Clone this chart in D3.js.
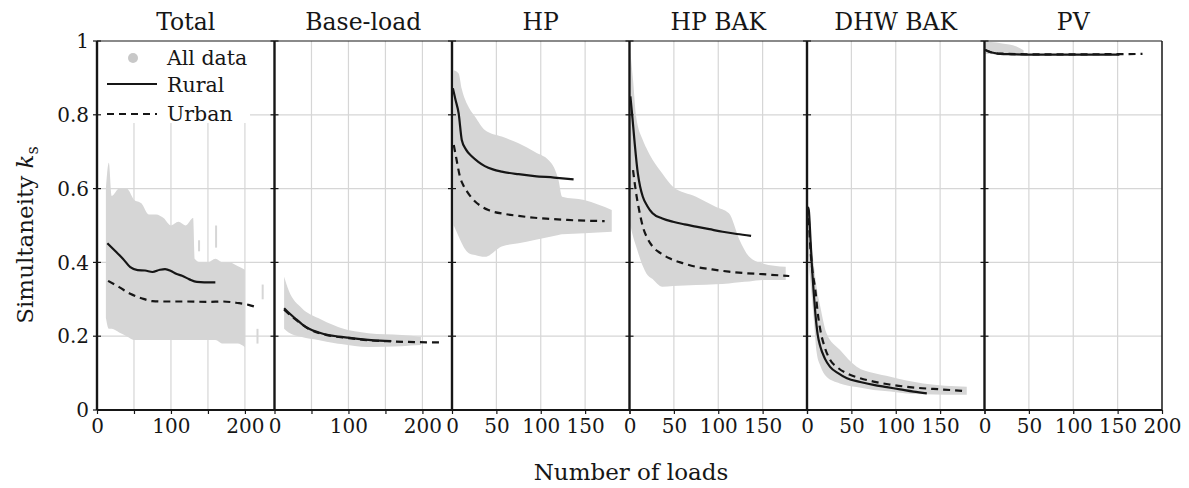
<!DOCTYPE html>
<html>
<head>
<meta charset="utf-8">
<script src="https://cdn.jsdelivr.net/npm/d3@7"></script>
<style>
  body { margin: 0; background: #fff; }
  svg { display: block; font-family: "DejaVu Serif", serif; }
</style>
</head>
<body>
<div id="chart"></div>
<script>
// panels, axes
const panelNames = ["Total", "Base-load", "HP", "HP BAK", "DHW BAK", "PV"];
const xMax = [240, 240, 200, 200, 200, 200];
const xTickLabels = [
  [0, 100, 200], [0, 100, 200], [0, 50, 100, 150],
  [0, 50, 100, 150], [0, 50, 100, 150], [0, 50, 100, 150, 200]
];
const xGridLines = [
  [50, 100, 150, 200], [50, 100, 150, 200], [50, 100, 150],
  [50, 100, 150], [50, 100, 150], [50, 100, 150]
];
const yTicks = [0, 0.2, 0.4, 0.6, 0.8, 1];

// Rural (solid) curves, [loads, ks]
const ruralTotal = [[14,0.452],[25,0.43],[35,0.41],[45,0.387],[55,0.379],[65,0.378],[75,0.374],[85,0.38],[92,0.382],[100,0.377],[107,0.369],[115,0.364],[125,0.354],[135,0.347],[145,0.346],[160,0.346]];
const ruralBase = [[13,0.276],[20,0.262],[28,0.248],[37,0.233],[46,0.221],[60,0.21],[73,0.203],[87,0.199],[100,0.196],[113,0.193],[127,0.19],[142,0.188],[158,0.187]];
const ruralHP = [[1,0.872],[4,0.84],[7.5,0.804],[11,0.732],[16,0.705],[22.5,0.687],[30,0.672],[37,0.661],[46,0.652],[56,0.646],[75,0.639],[93,0.634],[115,0.63],[137,0.625]];
const ruralHPBAK = [[1,0.85],[3,0.8],[5.5,0.732],[9.4,0.641],[12,0.605],[15,0.578],[20,0.553],[26,0.533],[37,0.519],[49,0.51],[62,0.503],[75,0.497],[90,0.49],[105,0.483],[121,0.477],[137,0.472]];
const ruralDHW = [[1,0.55],[2,0.542],[4,0.46],[5.6,0.388],[7.5,0.32],[9.4,0.262],[12,0.205],[15,0.172],[20,0.14],[26,0.117],[35,0.1],[45,0.086],[60,0.076],[75,0.068],[90,0.062],[105,0.056],[120,0.05],[135,0.045]];
const ruralPV = [[0.7,0.976],[6.4,0.97],[12,0.967],[17.6,0.965],[30,0.964],[55,0.963],[100,0.963],[152,0.963]];

// Urban (dashed) curves
const urbanTotal = [[15,0.35],[30,0.333],[45,0.315],[60,0.303],[75,0.295],[95,0.294],[120,0.294],[150,0.293],[170,0.294],[190,0.29],[205,0.285],[215,0.279]];
const urbanBase = [[13,0.272],[28,0.246],[46,0.22],[73,0.202],[100,0.195],[127,0.189],[158,0.186],[190,0.184],[225,0.183]];
const urbanHP = [[2,0.718],[5,0.68],[9,0.632],[13,0.608],[17,0.592],[26,0.565],[33,0.552],[41,0.542],[60,0.531],[75,0.526],[93,0.521],[110,0.518],[130,0.515],[150,0.513],[172,0.512]];
const urbanHPBAK = [[4,0.65],[7.5,0.587],[11,0.54],[15,0.497],[20,0.466],[26,0.443],[35,0.425],[45,0.411],[60,0.398],[75,0.388],[93,0.381],[112,0.375],[130,0.371],[150,0.368],[180,0.363]];
const urbanDHW = [[2,0.52],[3.7,0.443],[6,0.38],[9.4,0.325],[12,0.265],[15,0.217],[20,0.17],[26,0.136],[35,0.114],[45,0.099],[60,0.086],[75,0.077],[93,0.069],[112,0.063],[130,0.059],[150,0.056],[180,0.051]];
const urbanPV = [[0.7,0.976],[6.4,0.97],[17.6,0.966],[55,0.964],[110,0.964],[178,0.965]];

// "All data" cloud envelopes, [loads, low, high]
const cloudTotal = [[12,0.25,0.6],[16,0.22,0.67],[20,0.22,0.58],[30,0.21,0.6],[40,0.2,0.6],[50,0.19,0.57],[60,0.19,0.56],[70,0.19,0.53],[80,0.19,0.53],[90,0.19,0.52],[100,0.19,0.5],[110,0.19,0.51],[120,0.19,0.5],[130,0.19,0.52],[132,0.19,0.41],[140,0.19,0.4],[150,0.19,0.4],[160,0.19,0.41],[170,0.18,0.4],[180,0.18,0.4],[190,0.18,0.39],[200,0.17,0.38]];
const cloudBase = [[13,0.22,0.361],[19,0.21,0.325],[37,0.198,0.276],[59,0.19,0.249],[82,0.181,0.228],[90,0.179,0.222],[127,0.171,0.208],[172,0.173,0.203],[198,0.176,0.198]];
const cloudHP = [[2,0.5,0.921],[7.5,0.47,0.912],[11,0.452,0.87],[15,0.435,0.84],[19,0.425,0.82],[26,0.42,0.795],[37,0.415,0.759],[56,0.443,0.741],[75,0.452,0.723],[93,0.461,0.7],[112,0.47,0.669],[120,0.474,0.623],[124,0.476,0.578],[149,0.479,0.569],[180,0.483,0.542]];
const cloudHPBAK = [[1,0.5,0.97],[4,0.47,0.894],[7.5,0.443,0.795],[15,0.39,0.732],[19,0.37,0.71],[26,0.355,0.678],[37,0.334,0.641],[49,0.336,0.605],[75,0.339,0.578],[97,0.341,0.551],[112,0.343,0.533],[124,0.346,0.461],[135,0.348,0.415],[150,0.352,0.397],[176,0.352,0.388]];
const cloudDHW = [[1,0.42,0.56],[3.7,0.352,0.48],[7.5,0.25,0.397],[11,0.154,0.33],[15,0.12,0.28],[22,0.09,0.208],[37,0.072,0.163],[56,0.062,0.117],[75,0.054,0.1],[94,0.05,0.09],[112,0.045,0.08],[131,0.043,0.072],[180,0.041,0.063]];
const cloudPV = [[1,0.965,0.997],[7,0.965,0.997],[20,0.962,0.993],[36,0.962,0.985],[44,0.962,0.975]];

// stray vertical streaks in Total panel, [loads, low, high]
const streaksTotal = [[138,0.43,0.46],[161,0.44,0.5],[224,0.3,0.34],[217,0.18,0.22]];

const rural = [ruralTotal, ruralBase, ruralHP, ruralHPBAK, ruralDHW, ruralPV];
const urban = [urbanTotal, urbanBase, urbanHP, urbanHPBAK, urbanDHW, urbanPV];
const clouds = [cloudTotal, cloudBase, cloudHP, cloudHPBAK, cloudDHW, cloudPV];
const streaks = [streaksTotal, [], [], [], [], []];

const W = 1189, H = 488;
const plotLeft = 97, plotRight = 1162, plotTop = 41, plotBottom = 410;
const panelW = (plotRight - plotLeft) / panelNames.length;
const gridColor = "#d6d6d6", cloudColor = "#d6d6d6";
const ink = "#161616";
const dash = "7,5";

const svg = d3.select("#chart").append("svg")
  .attr("width", W).attr("height", H);

const y = d3.scaleLinear().domain([0, 1]).range([plotBottom, plotTop]);

// y tick labels
svg.append("g").selectAll("text")
  .data(yTicks).enter().append("text")
  .attr("x", 89).attr("y", d => y(d)).attr("dy", "0.36em")
  .attr("text-anchor", "end").attr("font-size", 20).attr("fill", ink)
  .text(d => d3.format("~g")(d));

panelNames.forEach(function(name, i) {
  const g = svg.append("g")
    .attr("transform", "translate(" + (plotLeft + i * panelW) + ",0)");
  const x = d3.scaleLinear().domain([0, xMax[i]]).range([0, panelW]);

  // grid
  g.selectAll("line.hgrid").data([0.2, 0.4, 0.6, 0.8]).enter().append("line")
    .attr("class", "hgrid")
    .attr("x1", 0).attr("x2", panelW)
    .attr("y1", d => y(d)).attr("y2", d => y(d))
    .attr("stroke", gridColor).attr("stroke-width", 1.2);
  g.selectAll("line.vgrid").data(xGridLines[i]).enter().append("line")
    .attr("class", "vgrid")
    .attr("x1", d => x(d)).attr("x2", d => x(d))
    .attr("y1", plotTop).attr("y2", plotBottom)
    .attr("stroke", gridColor).attr("stroke-width", 1.2);

  // legend box (hides grid) in first panel
  if (i === 0) {
    g.append("rect").attr("x", 0).attr("y", plotTop)
      .attr("width", 153).attr("height", 82).attr("fill", "#fff");
  }

  // all-data cloud
  g.append("path").datum(clouds[i])
    .attr("d", d3.area()
      .x(d => x(d[0])).y0(d => y(d[1])).y1(d => y(d[2]))
      .curve(d3.curveMonotoneX))
    .attr("fill", cloudColor);
  g.selectAll("line.streak").data(streaks[i]).enter().append("line")
    .attr("class", "streak")
    .attr("x1", d => x(d[0])).attr("x2", d => x(d[0]))
    .attr("y1", d => y(d[1])).attr("y2", d => y(d[2]))
    .attr("stroke", cloudColor).attr("stroke-width", 2);

  const line = d3.line().x(d => x(d[0])).y(d => y(d[1])).curve(d3.curveMonotoneX);
  g.append("path").datum(urban[i]).attr("d", line)
    .attr("fill", "none").attr("stroke", ink).attr("stroke-width", 2.2)
    .attr("stroke-dasharray", dash);
  g.append("path").datum(rural[i]).attr("d", line)
    .attr("fill", "none").attr("stroke", ink).attr("stroke-width", 2.2);

  // bottom axis
  const xAxis = d3.axisBottom(x)
    .tickValues(d3.range(0, xMax[i] + 1, 50))
    .tickSize(4)
    .tickFormat(d => xTickLabels[i].includes(d) ? d : "");
  const ax = g.append("g").attr("transform", "translate(0," + plotBottom + ")").call(xAxis);
  ax.select(".domain").remove();
  ax.selectAll("line").attr("stroke", ink).attr("stroke-width", 1.2);
  ax.selectAll("text").attr("font-size", 20).attr("fill", ink)
    .attr("font-family", "DejaVu Serif, serif").attr("y", 9).attr("dy", "0.71em");
  g.append("line").attr("x1", 0).attr("x2", panelW).attr("y1", plotBottom).attr("y2", plotBottom)
    .attr("stroke", ink).attr("stroke-width", 2);

  // left axis (ticks on both sides)
  g.selectAll("line.ytick").data(yTicks).enter().append("line")
    .attr("class", "ytick")
    .attr("x1", -4).attr("x2", 4)
    .attr("y1", d => y(d)).attr("y2", d => y(d))
    .attr("stroke", ink).attr("stroke-width", 1.2);
  g.append("line").attr("x1", 0).attr("x2", 0).attr("y1", plotTop).attr("y2", plotBottom)
    .attr("stroke", ink).attr("stroke-width", 2.4);

  // top border
  g.append("line").attr("x1", 0).attr("x2", panelW).attr("y1", plotTop).attr("y2", plotTop)
    .attr("stroke", ink).attr("stroke-width", 1.2);
  if (i === panelNames.length - 1) {
    g.append("line").attr("x1", panelW).attr("x2", panelW).attr("y1", plotTop).attr("y2", plotBottom)
      .attr("stroke", ink).attr("stroke-width", 1.5);
  }

  // title
  g.append("text").attr("x", panelW / 2).attr("y", 30)
    .attr("text-anchor", "middle").attr("font-size", 23.5).attr("fill", ink)
    .text(name);
});

// legend
const legend = svg.append("g").attr("font-size", 20.5).attr("fill", ink);
legend.append("circle").attr("cx", 133).attr("cy", 58).attr("r", 5).attr("fill", "#c8c8c8");
legend.append("text").attr("x", 167).attr("y", 65).text("All data");
legend.append("line").attr("x1", 107).attr("x2", 157).attr("y1", 84).attr("y2", 84)
  .attr("stroke", ink).attr("stroke-width", 2.2);
legend.append("text").attr("x", 167).attr("y", 92).text("Rural");
legend.append("line").attr("x1", 107).attr("x2", 157).attr("y1", 114).attr("y2", 114)
  .attr("stroke", ink).attr("stroke-width", 2.2).attr("stroke-dasharray", dash);
legend.append("text").attr("x", 167).attr("y", 121).text("Urban");

// axis titles
svg.append("text").attr("x", 631).attr("y", 480)
  .attr("text-anchor", "middle").attr("font-size", 23).attr("fill", ink)
  .text("Number of loads");

const ylab = svg.append("text")
  .attr("transform", "translate(33,235) rotate(-90)")
  .attr("text-anchor", "middle").attr("font-size", 23).attr("fill", ink);
ylab.append("tspan").text("Simultaneity ");
ylab.append("tspan").attr("font-style", "italic").text("k");
ylab.append("tspan").attr("font-size", 16).attr("dy", 5).text("s");
</script>
</body>
</html>
